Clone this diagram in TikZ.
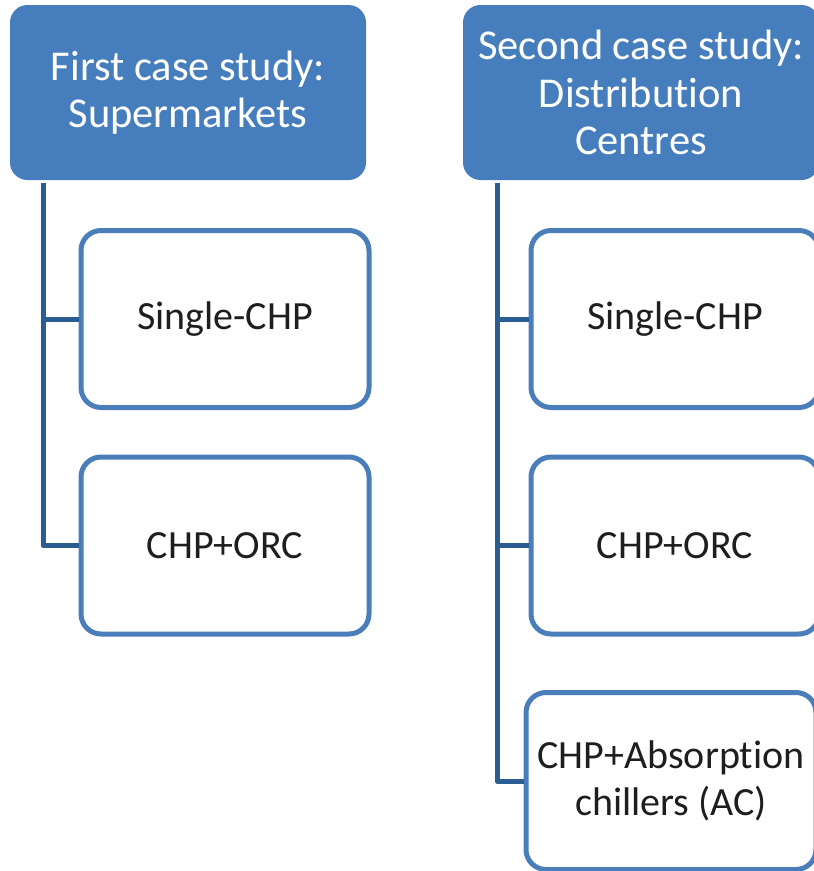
\documentclass[tikz,border=0pt]{standalone}
\usepackage{fontspec}
\setmainfont[Ligatures={NoCommon}]{Carlito}
\definecolor{headfill}{RGB}{70,126,189}
\definecolor{boxline}{RGB}{74,126,187}
\definecolor{treeline}{RGB}{44,93,146}
\definecolor{textdark}{RGB}{30,30,30}
\tikzset{
  headbox/.style={draw=headfill, fill=headfill, line width=1pt, rounded corners=17pt,
    minimum width=355pt, minimum height=174pt, text=white, align=center,
    font=\fontsize{42.5}{47.5}\selectfont, inner sep=0pt},
  leafbox/.style={draw=boxline, fill=white, line width=5pt, rounded corners=20pt,
    minimum width=288pt, minimum height=177pt, text=textdark, align=center,
    font=\fontsize{40}{47}\selectfont, inner sep=0pt},
  treelink/.style={draw=treeline, line width=5pt, line join=round}
}
\begin{document}
\begin{tikzpicture}[x=1pt,y=-1pt]
  \useasboundingbox (0,0) rectangle (814,871);
  \clip (0,0) rectangle (814,871);

  % column headers
  \node[headbox] (h1) at (188,92.5) {First case study:\\Supermarkets};
  \node[headbox] (h2) at (641,92.5) {Second case study:\\Distribution\\Centres};

  % first case study options
  \node[leafbox] (a1) at (225,319) {Single-CHP};
  \node[leafbox] (a2) at (225,545.5) {CHP+ORC};

  % second case study options
  \node[leafbox] (b1) at (675,319) {Single-CHP};
  \node[leafbox] (b2) at (675,545.5) {CHP+ORC};
  \node[leafbox, minimum width=290pt] (b3) at (671,781) {CHP+Absorption\\chillers (AC)};

  % tree connectors
  \coordinate (t1) at ([xshift=33pt,yshift=-2.5pt]h1.south west);
  \coordinate (t2) at ([xshift=34pt,yshift=-2.5pt]h2.south west);
  \draw[treelink] (t1) |- (a1.west);
  \draw[treelink] (t1) |- (a2.west);
  \draw[treelink] (t2) |- (b1.west);
  \draw[treelink] (t2) |- (b2.west);
  \draw[treelink] (t2) |- (b3.west);
\end{tikzpicture}
\end{document}
